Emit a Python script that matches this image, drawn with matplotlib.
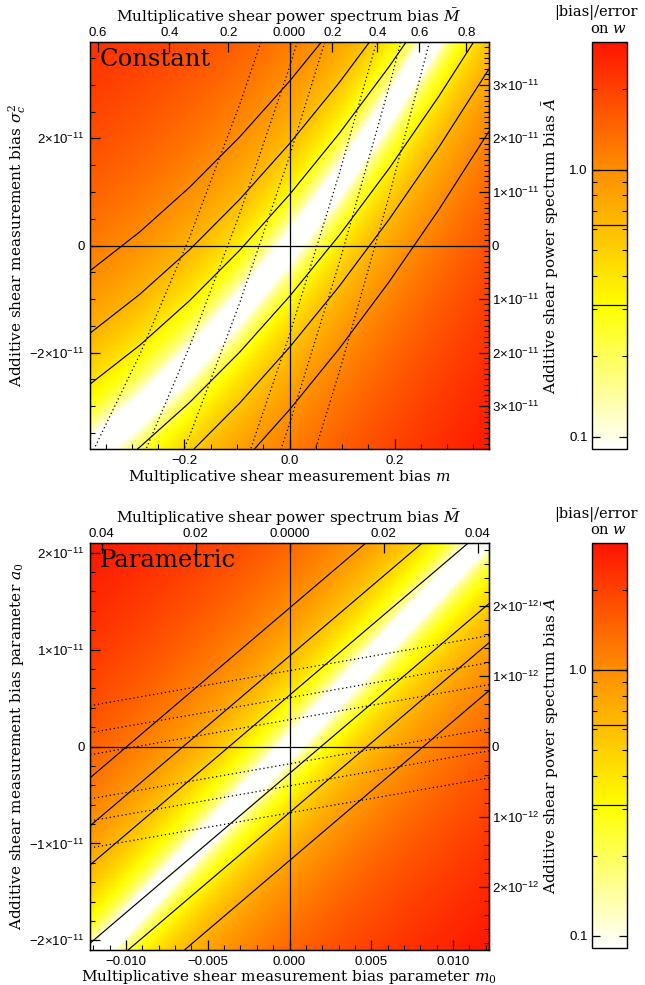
import numpy as np
import matplotlib
matplotlib.use("Agg")
import matplotlib.pyplot as plt
from matplotlib.colors import LinearSegmentedColormap, LogNorm, SymLogNorm
from matplotlib.cm import ScalarMappable
from matplotlib.ticker import FixedLocator, FixedFormatter, MultipleLocator, NullFormatter, NullLocator

plt.rcParams['mathtext.fontset'] = 'dejavuserif'

# ---------------- data ----------------
# colour scale of |bias|/error on w
cbar_min, cbar_max = 0.09, 3.0
cbar_levels = [0.31, 0.62, 1.0]
cmap_pos = [0.0, 0.35, 0.69, 1.0]
cmap_cols = ['#ffffff', '#ffff00', '#ff8c00', '#ff1400']

# Panel 1 (constant): m nodes, sigma_c^2 nodes (1e-11)
p1_xlim = (-0.38, 0.38)
p1_ylim = (-3.8, 3.8)
p1_m_nodes = [-0.38, -0.285, -0.19, -0.095, 0.0, 0.095, 0.19, 0.285, 0.38]
p1_s_nodes = [-3.8, 3.8]
# signed bias/error on w (colour), bottom row and top row
p1_heat_bot = [-0.014, 0.226, 0.502, 0.811, 1.155, 1.533, 1.946, 2.392, 2.874]
p1_heat_top = [-2.325, -2.084, -1.809, -1.499, -1.155, -0.777, -0.365, 0.082, 0.563]
# signed quantity shown by solid contours
p1_sol_bot = [-0.085, -0.322, -0.594, -0.899, -1.239, -1.612, -2.019, -2.459, -2.934]
p1_sol_top = [2.393, 2.155, 1.883, 1.578, 1.239, 0.866, 0.459, 0.018, -0.456]
# signed quantity shown by dotted contours
p1_dot_bot = [-1.029, -0.671, -0.263, 0.197, 0.707, 1.268, 1.881, 2.544, 3.258]
p1_dot_top = [-2.443, -2.086, -1.677, -1.218, -0.707, -0.146, 0.466, 1.129, 1.843]
p1_top_pos = [-0.3657, -0.2286, -0.1162, 0.0, 0.0819, 0.1676, 0.2476, 0.3371]
p1_top_lab = ['0.6', '0.4', '0.2', '0.000', '0.2', '0.4', '0.6', '0.8']
p1_bot_major = [-0.2, 0.0, 0.2]
p1_left_major = [-2, 0, 2]
p1_right_vals = [-3, -2, -1, 0, 1, 2, 3]
p1_right_scale = 1.0

# Panel 2 (parametric): m0, a0 (1e-11)
p2_xlim = (-0.0122, 0.0122)
p2_ylim = (-2.1, 2.1)
p2_m_nodes = [-0.0122, 0.0122]
p2_s_nodes = [-2.1, 2.1]
p2_heat_bot = [-0.08, 2.92]
p2_heat_top = [-2.92, 0.08]
p2_sol_bot = [-0.363, -3.054]
p2_sol_top = [2.860, 0.170]
p2_dot_bot = [-2.435, -3.42]
p2_dot_top = [3.287, 2.302]
p2_top_pos = [-0.01148, -0.00573, 0.0, 0.00575, 0.01151]
p2_top_lab = ['0.04', '0.02', '0.0000', '0.02', '0.04']
p2_bot_major = [-0.01, -0.005, 0.0, 0.005, 0.01]
p2_left_major = [-2, -1, 0, 1, 2]
p2_right_vals = [-2, -1, 0, 1, 2]
p2_right_scale = 0.724   # a0 (1e-11) per 1e-12 of A-bar

# ---------------- figure ----------------
W, H = 645, 985
fig = plt.figure(figsize=(W / 100, H / 100), dpi=100)


def box(x0, y0, x1, y1):
    return [x0 / W, 1 - y1 / H, (x1 - x0) / W, (y1 - y0) / H]


def ftext(x, y, s, **kw):
    fig.text(x / W, 1 - y / H, s, **kw)


SERIF = 'DejaVu Serif'
SANS = 'Liberation Sans'
TFS = 9.5      # tick label size
LFS = 11       # axis title size

pos_m = [0.5 - p / 2 for p in cmap_pos[::-1]] + [0.5 + p / 2 for p in cmap_pos[1:]]
col_m = cmap_cols[::-1] + cmap_cols[1:]
mirror = LinearSegmentedColormap.from_list('mir', list(zip(pos_m, col_m)), N=1024)
half = LinearSegmentedColormap.from_list('half', list(zip(cmap_pos, cmap_cols)), N=1024)
symnorm = SymLogNorm(linthresh=cbar_min, linscale=0.001, vmin=-cbar_max, vmax=cbar_max, base=10)
lev = sorted([-l for l in cbar_levels] + cbar_levels)


def sci(v, exp, sign=True):
    if v == 0:
        return '0'
    pre = '\u2212' if (v < 0 and sign) else ''
    return '%s%d\u00d710$^{\\mathregular{\u2212%d}}$' % (pre, abs(v), exp)


def panel(ax_box, m_nodes, s_nodes, heat_bot, heat_top, sol_bot, sol_top, dot_bot, dot_top,
          xlim, ylim, top_pos, top_lab, bot_major, bot_minor, bot_fmt,
          left_major, left_minor, right_vals, right_scale, right_minor, right_exp,
          label_txt):
    ax = fig.add_axes(box(*ax_box))
    mn = np.array(m_nodes)
    sn = np.array(s_nodes)
    heat = np.array([heat_bot, heat_top])
    dx = (mn[-1] - mn[0]) / (len(mn) - 1)
    dy = (sn[-1] - sn[0]) / (len(sn) - 1)
    ax.imshow(heat, origin='lower', cmap=mirror, norm=symnorm,
              extent=[mn[0] - dx / 2, mn[-1] + dx / 2, sn[0] - dy / 2, sn[-1] + dy / 2],
              interpolation='bilinear', interpolation_stage='data', aspect='auto')
    ax.contour(mn, sn, np.array([sol_bot, sol_top]), levels=lev, colors='k',
               linewidths=0.85, linestyles='solid')
    cd = ax.contour(mn, sn, np.array([dot_bot, dot_top]), levels=lev, colors='k',
                    linewidths=0.9)
    cd.set_linestyle((0, (1, 2.2)))
    ax.axhline(0, color='k', lw=0.9)
    ax.axvline(0, color='k', lw=0.9)
    ax.set_xlim(*xlim)
    ax.set_ylim(*ylim)
    for sp in ax.spines.values():
        sp.set_linewidth(1.0)
    ax.xaxis.set_major_locator(FixedLocator(bot_major))
    ax.xaxis.set_major_formatter(FixedFormatter([bot_fmt(v) for v in bot_major]))
    ax.xaxis.set_minor_locator(MultipleLocator(bot_minor))
    ax.yaxis.set_major_locator(FixedLocator(left_major))
    ax.yaxis.set_major_formatter(FixedFormatter([sci(v, 11) for v in left_major]))
    ax.yaxis.set_minor_locator(MultipleLocator(left_minor))
    ax.tick_params(which='both', direction='in', top=False, right=False, labelsize=TFS)
    ax.tick_params(which='major', length=7, width=0.9, pad=4)
    ax.tick_params(which='minor', length=3.5, width=0.8)
    for t in ax.get_xticklabels() + ax.get_yticklabels():
        t.set_fontfamily(SANS)

    # top axis (M-bar)
    axt = ax.twiny()
    axt.set_xlim(*xlim)
    axt.xaxis.set_major_locator(FixedLocator(top_pos))
    axt.xaxis.set_major_formatter(FixedFormatter(top_lab))
    axt.xaxis.set_minor_locator(NullLocator())
    axt.tick_params(which='major', direction='in', length=7, width=0.9, pad=2, labelsize=TFS)
    for t in axt.get_xticklabels():
        t.set_fontfamily(SANS)

    # right axis (A-bar)
    axr = ax.secondary_yaxis('right', functions=(lambda a: a / right_scale, lambda b: b * right_scale))
    axr.yaxis.set_major_locator(FixedLocator(right_vals))
    axr.yaxis.set_major_formatter(FixedFormatter([sci(v, right_exp, sign=False) for v in right_vals]))
    axr.yaxis.set_minor_locator(MultipleLocator(right_minor))
    axr.tick_params(which='both', direction='in', labelsize=TFS)
    axr.tick_params(which='major', length=7, width=0.9, pad=2)
    axr.tick_params(which='minor', length=3.5, width=0.8)
    for t in axr.get_yticklabels():
        t.set_fontfamily(SANS)

    ax.text(0.025, 0.985, label_txt, transform=ax.transAxes, ha='left', va='top',
            fontsize=17.5, family=SERIF)
    return ax


def colorbar(cb_box):
    cax = fig.add_axes(box(*cb_box))
    sm = ScalarMappable(norm=LogNorm(cbar_min, cbar_max), cmap=half)
    cb = fig.colorbar(sm, cax=cax, orientation='vertical', ticklocation='left')
    cb.outline.set_linewidth(1.0)
    for l in cbar_levels:
        cax.axhline(l, color='k', lw=0.9)
    cax.yaxis.set_major_locator(FixedLocator([0.1, 1.0]))
    cax.yaxis.set_major_formatter(FixedFormatter(['0.1', '1.0']))
    cax.yaxis.set_minor_locator(FixedLocator([0.2, 0.3, 0.4, 0.5, 0.6, 0.7, 0.8, 0.9, 2.0, 3.0]))
    cax.yaxis.set_minor_formatter(NullFormatter())
    cax.tick_params(which='both', direction='in', left=True, right=True, labelsize=TFS)
    cax.tick_params(which='major', length=6, width=0.9, pad=3)
    cax.tick_params(which='minor', length=3.5, width=0.8)
    for t in cax.get_yticklabels():
        t.set_fontfamily(SANS)
    return cax


# ---- panel 1 ----
panel((90, 42, 489, 449), p1_m_nodes, p1_s_nodes, p1_heat_bot, p1_heat_top,
      p1_sol_bot, p1_sol_top, p1_dot_bot, p1_dot_top, p1_xlim, p1_ylim, p1_top_pos, p1_top_lab,
      p1_bot_major, 0.05, lambda v: ('%.1f' % v).replace('-', '\u2212'),
      p1_left_major, 0.5, p1_right_vals, p1_right_scale, 0.1, 11, 'Constant')
colorbar((592, 42, 627, 449))

ftext(289, 17, r'Multiplicative shear power spectrum bias $\bar{M}$', ha='center', va='center',
      fontsize=LFS, family=SERIF)
ftext(289, 477, r'Multiplicative shear measurement bias $m$', ha='center', va='center',
      fontsize=LFS, family=SERIF)
ftext(17, 246, r'Additive shear measurement bias $\sigma_c^2$', ha='center', va='center',
      rotation=90, fontsize=LFS, family=SERIF)
ftext(551, 246, r'Additive shear power spectrum bias $\bar{A}$', ha='center', va='center',
      rotation=90, fontsize=LFS, family=SERIF)
ftext(596, 13, '|bias|/error', ha='center', va='center', fontsize=10.5, family=SERIF)
ftext(609, 29, r'on $w$', ha='center', va='center', fontsize=10.5, family=SERIF)

# ---- panel 2 ----
panel((90, 543, 489, 950), p2_m_nodes, p2_s_nodes, p2_heat_bot, p2_heat_top,
      p2_sol_bot, p2_sol_top, p2_dot_bot, p2_dot_top, p2_xlim, p2_ylim, p2_top_pos, p2_top_lab,
      p2_bot_major, 0.001, lambda v: ('%.3f' % v).replace('-', '\u2212'),
      p2_left_major, 0.2, p2_right_vals, p2_right_scale, 0.2, 12, 'Parametric')
colorbar((592, 543, 627, 948))

ftext(289, 518, r'Multiplicative shear power spectrum bias $\bar{M}$', ha='center', va='center',
      fontsize=LFS, family=SERIF)
ftext(289, 977, r'Multiplicative shear measurement bias parameter $m_0$', ha='center', va='center',
      fontsize=LFS, family=SERIF)
ftext(17, 746, r'Additive shear measurement bias parameter $a_0$', ha='center', va='center',
      rotation=90, fontsize=LFS, family=SERIF)
ftext(551, 746, r'Additive shear power spectrum bias $\bar{A}$', ha='center', va='center',
      rotation=90, fontsize=LFS, family=SERIF)
ftext(596, 514, '|bias|/error', ha='center', va='center', fontsize=10.5, family=SERIF)
ftext(609, 530, r'on $w$', ha='center', va='center', fontsize=10.5, family=SERIF)

fig.savefig('out.png', dpi=100)
